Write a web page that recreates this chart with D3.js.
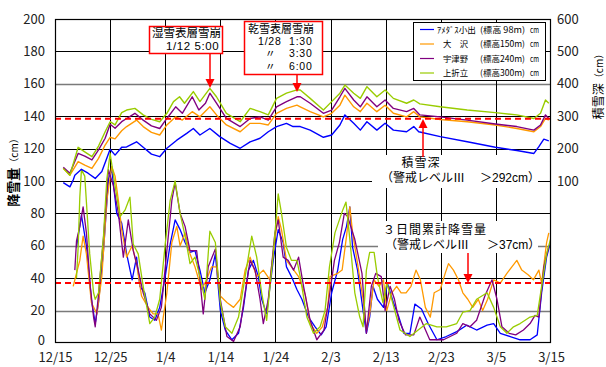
<!DOCTYPE html>
<html><head><meta charset="utf-8">
<script src="https://cdn.jsdelivr.net/npm/d3@7"></script>
<style>
body{margin:0;background:#fff;}
svg{display:block;font-family:"Noto Sans CJK JP","Noto Sans",sans-serif;}
</style>
</head><body>
<svg id="chart" width="606" height="367"></svg>
<script>
// ---- tick labels ----
const dayTicks = [0,10,20,30,40,50,60,70,80,90];
const dateLabels = ["12/15","12/25","1/4","1/14","1/24","2/3","2/13","2/23","3/5","3/15"];
const snowfallTicks = [0,20,40,60,80,100,120,140,160,180,200];
const depthTicks = [100,200,300,400,500,600];

// ---- legend ----
const stationNames = ["ｱﾒﾀﾞｽ小出","大　沢","宇津野","上折立"];
const stationElev = ["(標高 98m)","(標高150m)","(標高240m)","(標高300m)"];
const stationColors = ["#0000FF","#FF9900","#800080","#99CC00"];

// ---- warning levels ----
const depthWarning = 292;   // cm, right axis
const snowfallWarning = 37; // cm, left axis

// ---- snow depth (cm), [day since 12/15, value] ----
const depthKoide = [[1.5,95],[2.7,82],[3.3,103],[3.6,118],[4.8,136],[6.0,124],[7.3,108],[8.5,129],[9.4,170],[10,198],[10.9,180],[12.1,204],[13,205],[14.8,221],[16,204],[17.5,183],[19,175],[20.3,201],[22.1,226],[23.9,247],[25.1,262],[26.3,242],[28.1,262],[29.9,237],[31.8,216],[33.6,201],[35.4,221],[37.2,232],[38.7,252],[40.2,268],[42,278],[43.2,268],[44.5,268],[46.3,257],[48.7,235],[50.2,242],[51.7,273],[52.6,304],[54.2,278],[55.4,257],[56.6,283],[58.4,257],[59.9,278],[61.4,257],[63.8,252],[65.1,268],[66,252],[69.9,237],[74.8,221],[79.9,204],[83.8,194],[86.9,185],[87.8,206],[88.7,229],[89.6,224]];
const depthOsawa = [[1.5,139],[2.7,118],[4.2,160],[5.4,149],[6.7,139],[7.9,170],[9.1,211],[10,235],[10.9,230],[12.1,255],[13,268],[14.8,288],[16,268],[17.5,250],[19,242],[20.3,273],[21.9,298],[23.1,288],[24.9,314],[26.3,298],[28.1,329],[29.3,304],[31.1,273],[33.6,252],[35.4,278],[37.2,278],[38.7,273],[40.2,309],[42,324],[43.9,334],[44.5,329],[46.3,314],[48.7,298],[50.2,309],[51.7,334],[52.6,365],[54.2,329],[55.4,314],[56.6,340],[58.4,314],[59.9,334],[61.4,309],[63.8,298],[65.1,314],[66.2,298],[69.9,290],[74.8,283],[79.9,273],[83.8,262],[86.9,252],[88.1,268],[89,293],[89.6,288]];
const depthUtsuno = [[1.5,142],[2.7,124],[4.2,185],[5.4,177],[6.7,165],[7.9,196],[9.1,232],[10,275],[10.9,263],[12.1,283],[13,293],[14.5,309],[16,288],[17.5,270],[19,262],[20.3,293],[21.9,329],[23.1,309],[24.9,360],[26.1,319],[27.3,340],[28.1,371],[29.3,340],[31.1,293],[33.6,268],[35.4,293],[37.2,298],[38.7,288],[40.2,329],[42,345],[43.9,360],[44.5,360],[46.3,340],[48.7,309],[50.2,319],[51.7,360],[52.6,386],[54.2,350],[55.4,329],[56.6,360],[58.4,329],[59.9,350],[61.4,324],[63.8,314],[65.1,324],[66.2,304],[69.9,298],[74.8,288],[79.9,276],[83.8,268],[86.9,257],[88.1,273],[89,304],[89.6,293]];
const depthKamioritate = [[1.5,139],[2.7,118],[4.2,204],[5.4,190],[6.7,175],[7.9,208],[9.1,252],[10,283],[10.9,273],[12.1,311],[13,319],[14.5,324],[16,304],[17.5,290],[19,283],[20.3,309],[21.5,345],[22.6,360],[23.5,340],[25.1,376],[26.3,345],[28.1,386],[29.3,360],[31.1,309],[33.6,283],[35.4,324],[37.2,314],[38.7,304],[40.2,355],[42,371],[43.9,381],[44.5,381],[46.3,355],[48.7,319],[50.2,345],[51.7,371],[52.6,396],[54.2,371],[55.4,355],[56.6,391],[58.4,360],[59.9,381],[61.4,355],[63.8,340],[65.1,350],[66.2,338],[69.9,329],[74.8,319],[79.9,311],[83.8,304],[86.9,293],[88.1,309],[89,350],[89.6,340]];

// ---- 3-day cumulative snowfall (cm), [day since 12/15, value] ----
const snowKoide = [[3.9,59],[4.8,79],[5.7,60],[6.6,27],[7.3,12],[7.9,25],[8.8,57],[9.7,101],[10.3,107],[11.2,80],[12.1,74],[13,55],[14,39],[14.8,53],[15.4,35],[16.3,31],[17.2,16],[18.1,14],[19,22],[20,41],[20.9,61],[21.8,76],[22.7,70],[23.6,62],[24.5,56],[25.4,57],[26.3,45],[27.2,31],[28.1,39],[29.1,55],[30,20],[30.9,8],[32.1,2],[33.3,6],[34.2,22],[35.1,45],[36,51],[36.9,41],[37.5,27],[38.4,18],[39.6,51],[40.5,70],[41.4,62],[42,47],[42.9,41],[43.9,33],[44.8,27],[46,16],[47.2,10],[48.3,5],[49.2,10],[50.2,31],[51.3,45],[52.2,64],[52.9,72],[53.5,84],[54,59],[54.9,45],[55.9,20],[56.5,6],[57.1,16],[57.7,35],[58.5,27],[59.6,22],[60.3,37],[61.4,25],[62.4,16],[63.3,6],[64.4,6],[65.3,24],[66.5,21],[67.7,12],[69.3,2],[71,4],[72.9,7],[74.7,11],[76.5,8],[78.4,11],[79.6,12],[80.8,6],[82.6,4],[84.4,2],[86.2,2],[87.5,5],[88.3,31],[89.2,53],[89.9,62]];
const snowOsawa = [[3.3,35],[3.6,39],[4.5,51],[5.1,66],[5.7,55],[6.6,25],[7.6,18],[8.5,41],[9.4,88],[10.3,109],[10.9,103],[11.5,88],[12.1,70],[13,53],[14,60],[14.8,49],[15.7,29],[16.9,22],[17.8,18],[18.7,18],[19.3,8],[20.3,31],[21.2,62],[22.1,72],[22.7,60],[23.6,68],[24.5,55],[25.4,47],[26.6,33],[27.5,39],[28.4,47],[29.3,47],[30,29],[31.2,25],[32.4,22],[33.6,27],[34.5,45],[35.4,53],[36.6,41],[37.8,45],[39,39],[39.9,64],[40.5,78],[41.1,70],[42,51],[42.9,47],[44.2,41],[45.4,30],[46.3,12],[47.5,6],[48.5,10],[49.5,22],[49.9,41],[51.3,43],[52.1,45],[52.9,66],[53.5,84],[54,68],[54.9,49],[55.9,27],[56.5,8],[57.1,18],[57.9,39],[58.8,35],[59.6,39],[60.2,20],[61.1,31],[62,35],[62.8,31],[63.7,31],[64.6,35],[65.5,45],[66.3,39],[67.2,22],[68.1,16],[68.8,31],[69.9,33],[70.8,43],[71.4,49],[72.3,45],[73.2,39],[74,31],[74.9,27],[75.8,22],[76.8,27],[77.6,20],[78.5,27],[79.6,39],[80.8,37],[82,43],[82.9,47],[83.8,51],[84.7,45],[85.9,42],[86.8,39],[87.8,45],[88.3,37],[89.2,62],[89.6,68]];
const snowUtsuno = [[3.6,45],[3.9,63],[4.5,72],[5.1,84],[5.7,68],[6.4,35],[7,16],[7.3,10],[7.9,30],[8.8,65],[9.7,107],[10.6,97],[11.5,80],[12.4,53],[13.3,76],[14.2,57],[15.1,45],[16,31],[17.2,18],[18.4,14],[19.3,22],[20.3,57],[21.2,88],[21.8,99],[22.7,80],[23.6,72],[24.5,57],[25.7,57],[26.3,39],[26.9,18],[27.8,47],[29.1,58],[30,27],[31.2,4],[32.4,1],[33.6,10],[34.5,31],[35.4,51],[36.3,45],[37.2,27],[37.8,12],[38.7,27],[39.9,68],[40.5,76],[41.4,53],[42.3,51],[43.3,45],[44.2,53],[45.1,35],[46.3,14],[47.5,2],[48.8,8],[49.7,27],[50.7,51],[51.6,62],[52.5,80],[53.1,78],[54.4,64],[55.7,43],[56.5,6],[57.4,35],[58.2,43],[59.2,41],[59.9,20],[60.8,35],[61.6,27],[62.4,14],[63.6,5],[65.1,5],[66.2,16],[68,2],[70.5,2],[72.9,6],[74,12],[75.3,10],[76.5,14],[78,29],[79.3,39],[80.2,27],[81.1,10],[82.4,6],[83.6,5],[85,8],[86.2,12],[87.1,17],[87.8,16],[88.7,47],[89.6,60]];
const snowKamioritate = [[3.9,40],[4.2,59],[4.5,90],[4.8,107],[5.4,103],[6.3,55],[7,31],[7.3,27],[7.9,31],[8.8,66],[9.4,101],[10,117],[10.9,97],[11.8,78],[12.7,82],[13.6,90],[14.2,61],[15.1,55],[16,35],[17.2,12],[18.1,16],[19,27],[20,61],[20.9,88],[21.8,100],[22.7,80],[23.6,66],[24.5,49],[25.4,53],[26.3,41],[27.2,27],[28.1,69],[29.1,62],[30,25],[30.9,10],[32.1,6],[33.3,16],[34.5,41],[35.7,66],[36.6,53],[37.5,31],[38.4,14],[39.6,55],[40.5,92],[41.1,80],[42,59],[42.9,51],[43.9,51],[44.5,41],[45.7,16],[46.9,6],[48.1,10],[49,20],[49.8,47],[50.8,68],[51.6,76],[52.2,82],[52.8,87],[53.5,64],[54.4,31],[55.3,16],[55.9,10],[56.5,45],[57.1,56],[57.9,56],[58.5,41],[59.5,25],[60.2,37],[61.1,27],[62.6,8],[64.4,4],[65.9,8],[67.4,12],[69.3,10],[71,10],[72.9,12],[74,19],[75.3,20],[76.5,27],[78.4,31],[79.6,22],[80.8,10],[82,6],[83.2,10],[84.4,12],[86.2,16],[87.5,17],[88.3,35],[89.2,55],[89.9,64]];

const depthSeries = [depthKoide, depthOsawa, depthUtsuno, depthKamioritate];
const snowSeries = [snowKoide, snowOsawa, snowUtsuno, snowKamioritate];

// ---- drawing ----
const svg = d3.select("#chart");
const L = 55, R = 551, T = 19, B = 343;
const x = d3.scaleLinear().domain([0,90]).range([L,R]);
const yL = d3.scaleLinear().domain([0,200]).range([B,T]);
const yR = d3.scaleLinear().domain([-400,600]).range([B,T]);

svg.append("rect").attr("width",606).attr("height",367).attr("fill","#fff");

// grid
const grayGrid = new Set([160,60,20]);
svg.append("g").selectAll("line").data(snowfallTicks.filter(v=>v>0&&v<200)).join("line")
  .attr("x1",L).attr("x2",R).attr("y1",d=>Math.round(yL(d))+0.5).attr("y2",d=>Math.round(yL(d))+0.5)
  .attr("stroke",d=>grayGrid.has(d)?"#7a7a7a":"#000").attr("stroke-width",d=>grayGrid.has(d)?1.6:1);
svg.append("g").selectAll("line").data(dayTicks.filter(v=>v>0&&v<90)).join("line")
  .attr("x1",d=>Math.round(x(d))+0.5).attr("x2",d=>Math.round(x(d))+0.5).attr("y1",T).attr("y2",B)
  .attr("stroke","#000").attr("stroke-width",1);

// data lines
const lineDepth = d3.line().x(d=>x(d[0])).y(d=>yR(d[1]));
const lineSnow = d3.line().x(d=>x(d[0])).y(d=>yL(d[1]));
const order = [0,1,2,3];
order.forEach(i=>{
  svg.append("path").attr("d",lineSnow(snowSeries[i])).attr("fill","none")
    .attr("stroke",stationColors[i]).attr("stroke-width",1.3).attr("stroke-linejoin","round");
});
order.forEach(i=>{
  svg.append("path").attr("d",lineDepth(depthSeries[i])).attr("fill","none")
    .attr("stroke",stationColors[i]).attr("stroke-width",1.4).attr("stroke-linejoin","round");
});

// warning lines
svg.append("line").attr("x1",L).attr("x2",R).attr("y1",yR(depthWarning)).attr("y2",yR(depthWarning))
  .attr("stroke","#FF0000").attr("stroke-width",2).attr("stroke-dasharray","6,4");
svg.append("line").attr("x1",L).attr("x2",R).attr("y1",yL(snowfallWarning)).attr("y2",yL(snowfallWarning))
  .attr("stroke","#FF0000").attr("stroke-width",2).attr("stroke-dasharray","6,4");

const boxFont = '"Liberation Sans","Noto Sans CJK JP",sans-serif';

// text boxes (white background)
svg.append("rect").attr("x",372).attr("y",155).attr("width",166).attr("height",33).attr("fill","#fff");
svg.append("rect").attr("x",378).attr("y",221).attr("width",160).attr("height",32).attr("fill","#fff");
const ann = svg.append("g").attr("font-size",12).attr("fill","#000").attr("font-family",boxFont);
const a1 = ann.append("text");
a1.append("tspan").attr("x",421).attr("y",167).attr("text-anchor","middle").attr("letter-spacing",1).text("積雪深");
a1.append("tspan").attr("x",381).attr("y",182).text("（警戒レベルⅢ");
a1.append("tspan").attr("x",480).attr("y",182).text("＞292cm）");
const a2 = ann.append("text");
a2.append("tspan").attr("x",383).attr("y",234).attr("letter-spacing",1).text("３日間累計降雪量");
a2.append("tspan").attr("x",385).attr("y",249).text("（警戒レベルⅢ");
a2.append("tspan").attr("x",487).attr("y",249).text("＞37cm）");

// arrows
const arrow = (x0,y0,y1)=>{
  const dir = y1>y0?1:-1;
  svg.append("line").attr("x1",x0).attr("x2",x0).attr("y1",y0).attr("y2",y1-dir*7)
    .attr("stroke","#FF0000").attr("stroke-width",1.5);
  svg.append("path").attr("d",`M${x0-4.5},${y1-dir*9}L${x0+4.5},${y1-dir*9}L${x0},${y1}Z`).attr("fill","#FF0000");
};
arrow(423,157,119);
arrow(468,253,283);
arrow(210,53,88);
arrow(297,74,92);

// avalanche boxes
svg.append("rect").attr("x",149.5).attr("y",26.5).attr("width",73).attr("height",27)
  .attr("fill","#fff").attr("stroke","#FF0000").attr("stroke-width",1.5);
svg.append("rect").attr("x",244.5).attr("y",21.5).attr("width",78).attr("height",53)
  .attr("fill","#fff").attr("stroke","#FF0000").attr("stroke-width",1.5);
const box = svg.append("g").attr("fill","#000").attr("font-family",boxFont);
const b1 = box.append("text").attr("font-size",11.5);
b1.append("tspan").attr("x",152).attr("y",37).text("湿雪表層雪崩");
b1.append("tspan").attr("x",166).attr("y",50).attr("letter-spacing",0.6).text("1/12 5:00");
const b2 = box.append("text").attr("font-size",10.5);
b2.append("tspan").attr("x",248).attr("y",32.5).attr("font-size",11).text("乾雪表層雪崩");
b2.append("tspan").attr("x",258).attr("y",45).attr("letter-spacing",0.8).text("1/28");
b2.append("tspan").attr("x",289).attr("y",45).attr("letter-spacing",0.8).text("1:30");
b2.append("tspan").attr("x",265).attr("y",57.3).text("〃");
b2.append("tspan").attr("x",289).attr("y",57.3).attr("letter-spacing",0.8).text("3:30");
b2.append("tspan").attr("x",265).attr("y",69.6).text("〃");
b2.append("tspan").attr("x",289).attr("y",69.6).attr("letter-spacing",0.8).text("6:00");

// legend
svg.append("rect").attr("x",413.5).attr("y",22.5).attr("width",132).attr("height",58)
  .attr("fill","#fff").attr("stroke","#000").attr("stroke-width",1);
const lg = svg.append("g").attr("font-size",8.5).attr("fill","#000");
const rowY = [29.5,44,58.5,73];
stationNames.forEach((n,i)=>{
  lg.append("line").attr("x1",420).attr("x2",434).attr("y1",rowY[i]).attr("y2",rowY[i])
    .attr("stroke",stationColors[i]).attr("stroke-width",1.2);
  lg.append("text").attr("x",i===0?437:443).attr("y",rowY[i]+3.3)
    .attr("textLength",i===0?39:25).attr("lengthAdjust","spacingAndGlyphs").text(n);
  lg.append("text").attr("x",480).attr("y",rowY[i]+3.3)
    .attr("textLength",45).attr("lengthAdjust","spacingAndGlyphs").text(stationElev[i]);
  lg.append("text").attr("x",530).attr("y",rowY[i]+3.3)
    .attr("textLength",9).attr("lengthAdjust","spacingAndGlyphs").text("cm");
});

// frame
svg.append("rect").attr("x",L+0.5).attr("y",T+0.5).attr("width",R-L-1).attr("height",B-T-1)
  .attr("fill","none").attr("stroke","#000").attr("stroke-width",1.2);

// axes
const axL = svg.append("g").attr("transform",`translate(${L},0)`)
  .call(d3.axisLeft(yL).tickValues(snowfallTicks).tickSize(0).tickPadding(10));
const axB = svg.append("g").attr("transform",`translate(0,${B})`)
  .call(d3.axisBottom(x).tickValues(dayTicks).tickFormat((d,i)=>dateLabels[i]).tickSize(0).tickPadding(10));
const axR = svg.append("g").attr("transform",`translate(${R},0)`)
  .call(d3.axisRight(yR).tickValues(depthTicks).tickSize(0).tickPadding(6));
[axL,axB,axR].forEach(a=>{
  a.select(".domain").remove();
  a.selectAll("text").attr("font-size",13).attr("fill","#222")
    .attr("font-family",'"Noto Sans CJK JP","Noto Sans",sans-serif');
});
axL.selectAll(".tick text").filter(d=>d===0).attr("dy","0.1em");

// axis titles
const tL = svg.append("text").attr("transform","translate(18,170) rotate(-90)").attr("text-anchor","middle");
tL.append("tspan").attr("font-size",13).attr("font-weight","bold").text("降雪量");
tL.append("tspan").attr("font-size",10).text("（cm）");
const tR = svg.append("text").attr("transform","translate(603,84) rotate(-90)").attr("text-anchor","middle");
tR.append("tspan").attr("font-size",12).text("積雪深");
tR.append("tspan").attr("font-size",10).text("（cm）");
</script>
</body></html>
